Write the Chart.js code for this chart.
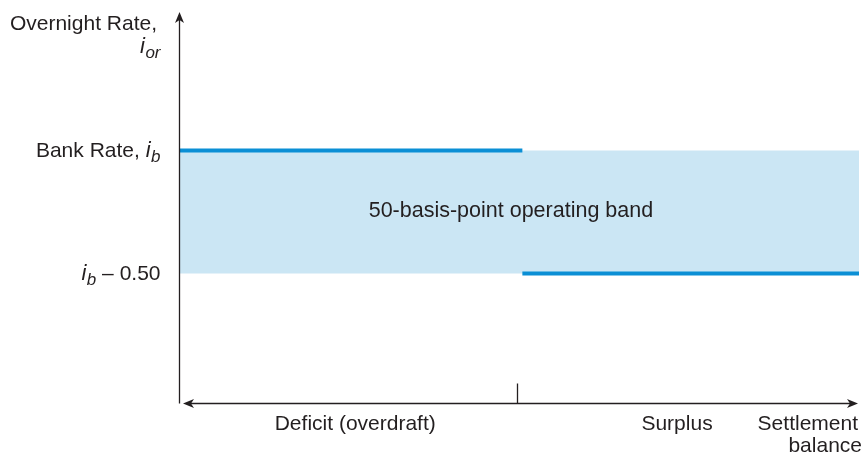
<!DOCTYPE html>
<html>
<head>
<meta charset="utf-8">
<script src="https://cdn.jsdelivr.net/npm/chart.js@4.4.0/dist/chart.umd.min.js"></script>
<style>
  html, body { margin: 0; padding: 0; background: #ffffff; }
  #wrap { width: 866px; height: 454px; position: relative; }
</style>
</head>
<body>
<div id="wrap"><canvas id="c" width="866" height="454"></canvas></div>
<script>
// ---- data ----
const bankRate = 1.00;            // i_b
const bandWidth = 0.50;           // 50 basis points
const lowerRate = bankRate - bandWidth; // i_b - 0.50
const xDeficitStart = -1.0;       // left end of settlement-balance axis
const xSplit = 0.016;             // switch point (zero balance)
const xSurplusEnd = 1.015;        // right end
const xZeroTick = 0;              // tick on the x axis
const yAxisMin = -0.0305;
const yAxisMax = 1.563;
const xCategoryLabels = ["Deficit (overdraft)", "Surplus"];
const xCategoryPositions = [-0.48, 0.475];
const xAxisTitle = ["Settlement", "balance"];
const yAxisTitle = ["Overnight Rate,", "i", "or"];
const bandLabel = "50-basis-point operating band";
const bandLabelPos = { x: -0.018, y: 0.755 };

const TXT = "#231f20";
const LINE = "#0b8fd5";
const BAND = "#cbe6f4";
const FONT = "'Liberation Sans', Arial, Helvetica, sans-serif";

function drawRich(ctx, parts, x, baseline, align) {
  // parts: {t, it, sub}
  let total = 0;
  const ws = parts.map(p => {
    ctx.font = (p.it ? "italic " : "") + (p.sub ? "17px " : (p.big ? "22px " : "21px ")) + FONT;
    const w = ctx.measureText(p.t).width;
    total += w;
    return w;
  });
  let cx = align === "right" ? x - total : (align === "center" ? x - total / 2 : x);
  parts.forEach((p, i) => {
    ctx.font = (p.it ? "italic " : "") + (p.sub ? "17px " : (p.big ? "22px " : "21px ")) + FONT;
    ctx.textAlign = "left";
    ctx.textBaseline = "alphabetic";
    ctx.fillStyle = TXT;
    ctx.fillText(p.t, cx, baseline + (p.sub ? 5 : 0));
    cx += ws[i] + (p.it && !p.sub ? 0.5 : 0);
  });
}

function arrow(ctx, tipX, tipY, dx, dy) {
  // dx,dy unit direction pointing toward tip
  const len = 11, half = 4.5, notch = 3;
  const bx = tipX - dx * len, by = tipY - dy * len;
  const px = -dy, py = dx;
  ctx.beginPath();
  ctx.moveTo(tipX, tipY);
  ctx.lineTo(bx + px * half, by + py * half);
  ctx.lineTo(tipX - dx * (len - notch), tipY - dy * (len - notch));
  ctx.lineTo(bx - px * half, by - py * half);
  ctx.closePath();
  ctx.fillStyle = TXT;
  ctx.fill();
}

const decor = {
  id: "decor",
  afterDatasetsDraw(chart) {
    const ctx = chart.ctx;
    const a = chart.chartArea;
    const xs = chart.scales.x, ys = chart.scales.y;
    ctx.save();
    // band label
    ctx.font = "21.5px " + FONT;
    ctx.fillStyle = TXT;
    ctx.textAlign = "center";
    ctx.textBaseline = "middle";
    ctx.fillText(bandLabel, xs.getPixelForValue(bandLabelPos.x), ys.getPixelForValue(bandLabelPos.y));

    // axes
    ctx.strokeStyle = TXT;
    ctx.lineWidth = 1.3;
    const ax = a.left - 0.5, ay = a.bottom - 0.5;
    ctx.beginPath();
    ctx.moveTo(ax, ay);
    ctx.lineTo(ax, a.top + 6);
    ctx.stroke();
    arrow(ctx, ax, a.top, 0, -1);
    ctx.beginPath();
    ctx.moveTo(a.left + 8, ay);
    ctx.lineTo(a.right - 6, ay);
    ctx.stroke();
    arrow(ctx, a.left + 3, ay, -1, 0);
    arrow(ctx, a.right - 1, ay, 1, 0);
    // zero tick
    const tx = Math.round(xs.getPixelForValue(xZeroTick)) + 0.5;
    ctx.beginPath();
    ctx.moveTo(tx, ay);
    ctx.lineTo(tx, ay - 20);
    ctx.stroke();

    // y axis title
    drawRich(ctx, [{ t: yAxisTitle[0] }], a.left - 23, a.top + 18, "right");
    drawRich(ctx, [{ t: yAxisTitle[1], it: true, big: true }, { t: yAxisTitle[2], it: true, sub: true }], a.left - 20, a.top + 41, "right");

    // y tick labels
    const yb = ys.getPixelForValue(bankRate) + 7;
    drawRich(ctx, [{ t: "Bank Rate, " }, { t: "i", it: true, big: true }, { t: "b", it: true, sub: true }], a.left - 20, yb, "right");
    const yl = ys.getPixelForValue(lowerRate) + 7;
    drawRich(ctx, [{ t: "i", it: true, big: true }, { t: "b", it: true, sub: true }, { t: " \u2013 0.50" }], a.left - 20, yl, "right");

    // x labels
    const lb = a.bottom + 26;
    xCategoryLabels.forEach((t, i) => {
      drawRich(ctx, [{ t }], xs.getPixelForValue(xCategoryPositions[i]), lb, "center");
    });
    drawRich(ctx, [{ t: xAxisTitle[0] }], a.right - 1, lb, "right");
    drawRich(ctx, [{ t: xAxisTitle[1] }], a.right + 3, lb + 22, "right");
    ctx.restore();
  }
};

new Chart(document.getElementById("c"), {
  type: "line",
  data: {
    datasets: [
      {
        label: "band",
        data: [{ x: xDeficitStart, y: bankRate }, { x: xSurplusEnd, y: bankRate }],
        fill: { value: lowerRate },
        backgroundColor: BAND,
        borderWidth: 0,
        pointRadius: 0,
        order: 3
      },
      {
        label: "deficit rate",
        data: [{ x: xDeficitStart, y: bankRate }, { x: xSplit, y: bankRate }],
        borderColor: LINE,
        borderWidth: 4,
        pointRadius: 0,
        fill: false,
        borderCapStyle: "butt",
        order: 1
      },
      {
        label: "surplus rate",
        data: [{ x: xSplit, y: lowerRate }, { x: xSurplusEnd, y: lowerRate }],
        borderColor: LINE,
        borderWidth: 4,
        pointRadius: 0,
        fill: false,
        borderCapStyle: "butt",
        order: 1
      }
    ]
  },
  options: {
    responsive: false,
    animation: false,
    devicePixelRatio: 1,
    layout: { padding: { left: 180, right: 7, top: 12, bottom: 50 } },
    plugins: { legend: { display: false }, tooltip: { enabled: false } },
    scales: {
      x: { type: "linear", min: xDeficitStart, max: xSurplusEnd, display: false },
      y: { type: "linear", min: yAxisMin, max: yAxisMax, display: false }
    }
  },
  plugins: [decor]
});
</script>
</body>
</html>
